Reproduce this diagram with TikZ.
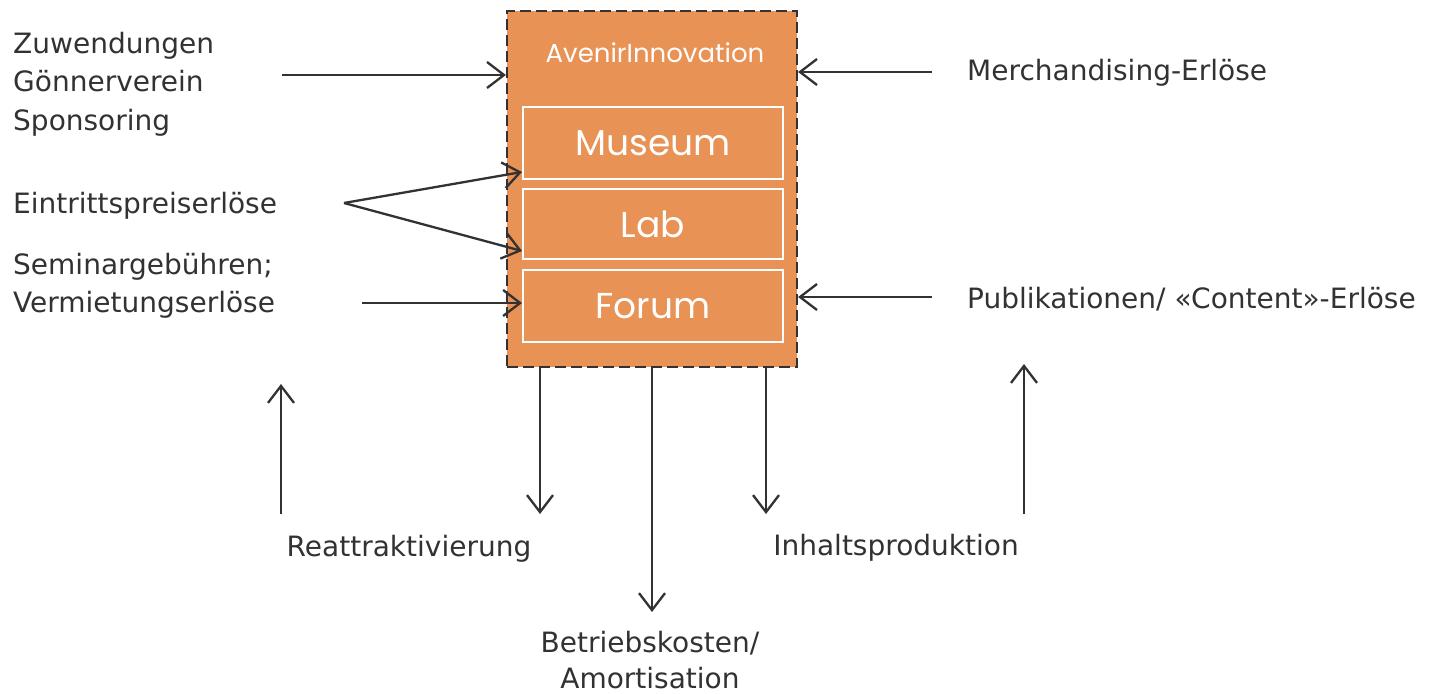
\documentclass[tikz,border=0pt]{standalone}
\usepackage{fontspec}
\setmainfont{DejaVu Sans}
\newfontfamily\boxfont{Poppins}
\usetikzlibrary{arrows.meta}
\definecolor{boxorange}{RGB}{232,146,86}
\definecolor{ink}{RGB}{50,50,50}
\tikzset{
  lbl/.style={font=\fontsize{28}{38.5}\selectfont, text=ink, inner sep=0pt},
  arr/.style={draw=ink, line width=2.3pt, -{Straight Barb[length=17pt,width=26pt,line width=2.3pt]}},
  inner/.style={draw=white, line width=2pt, fill=boxorange, minimum width=260pt, inner sep=0pt, text=white, font=\boxfont\fontsize{36}{38}\selectfont}
}
\begin{document}
\begin{tikzpicture}[x=1pt,y=-1pt]
\useasboundingbox (0,0) rectangle (1431,693);
\fill[white] (0,0) rectangle (1431,693);
% outer box
\node[draw=ink, dash pattern=on 11pt off 5pt, line width=2.2pt, fill=boxorange, minimum width=290pt, minimum height=356pt, inner sep=0pt] (outer) at (652,189) {};
\node[text=white, font=\boxfont\fontsize{26}{28}\selectfont] (title) at (655,53) {AvenirInnovation};
\node[inner, minimum height=72pt] (museum) at (653,143) {Museum};
\node[inner, minimum height=70pt] (lab) at (653,224) {Lab};
\node[inner, minimum height=72pt] (forum) at (653,306) {Forum};
% left labels
\node[lbl, anchor=base west] (zuw1) at (13,53) {Zuwendungen};
\node[lbl, anchor=base west] (zuw2) at (13,92) {Gönnerverein};
\node[lbl, anchor=base west] (zuw3) at (13,130) {Sponsoring};
\node[lbl, anchor=base west] (eintritt) at (13,213) {Eintrittspreiserlöse};
\node[lbl, anchor=base west] (sem1) at (13,274) {Seminargebühren;};
\node[lbl, anchor=base west] (sem2) at (13,312) {Vermietungserlöse};
% right labels
\node[lbl, anchor=base west] (merch) at (967,80) {Merchandising-Erlöse};
\node[lbl, anchor=base west] (publ) at (967,308) {Publikationen/ «Content»-Erlöse};
% bottom labels
\node[lbl, anchor=base] (reatt) at (409,556) {Reattraktivierung};
\node[lbl, anchor=base] (inhalt) at (896,555) {Inhaltsproduktion};
\node[lbl, anchor=base] (betr1) at (650,652) {Betriebskosten/};
\node[lbl, anchor=base] (betr2) at (650,688) {Amortisation};
% coordinates
\coordinate (zs) at (282,75);
\coordinate (ze) at (outer.west |- zs);
\coordinate (ms) at (932,72);
\coordinate (me) at (outer.east |- ms);
\coordinate (es) at (344,203);
\coordinate (ss) at (362,303);
\coordinate (ps) at (932,297);
\coordinate (pe) at (outer.east |- ps);
\coordinate (b1) at (540,367);
\coordinate (b2) at (652,367);
\coordinate (b3) at (766,367);
\coordinate (b1e) at (540,514);
\coordinate (b2e) at (652,612);
\coordinate (b3e) at (766,514);
\coordinate (u1s) at (281,514);
\coordinate (u1e) at (281,384);
\coordinate (u2s) at (1024,514);
\coordinate (u2e) at (1024,364);
% arrows
\draw[arr] (zs) -- (ze);
\draw[arr] (ms) -- (me);
\draw[arr] (es) -- ([yshift=8pt]museum.south west);
\draw[arr] (es) -- ([yshift=9pt]lab.south west);
\draw[arr] (ss) -- (forum.west |- ss);
\draw[arr] (ps) -- (pe);
\draw[arr] (b1) -- (b1e);
\draw[arr] (b2) -- (b2e);
\draw[arr] (b3) -- (b3e);
\draw[arr] (u1s) -- (u1e);
\draw[arr] (u2s) -- (u2e);
\end{tikzpicture}
\end{document}
